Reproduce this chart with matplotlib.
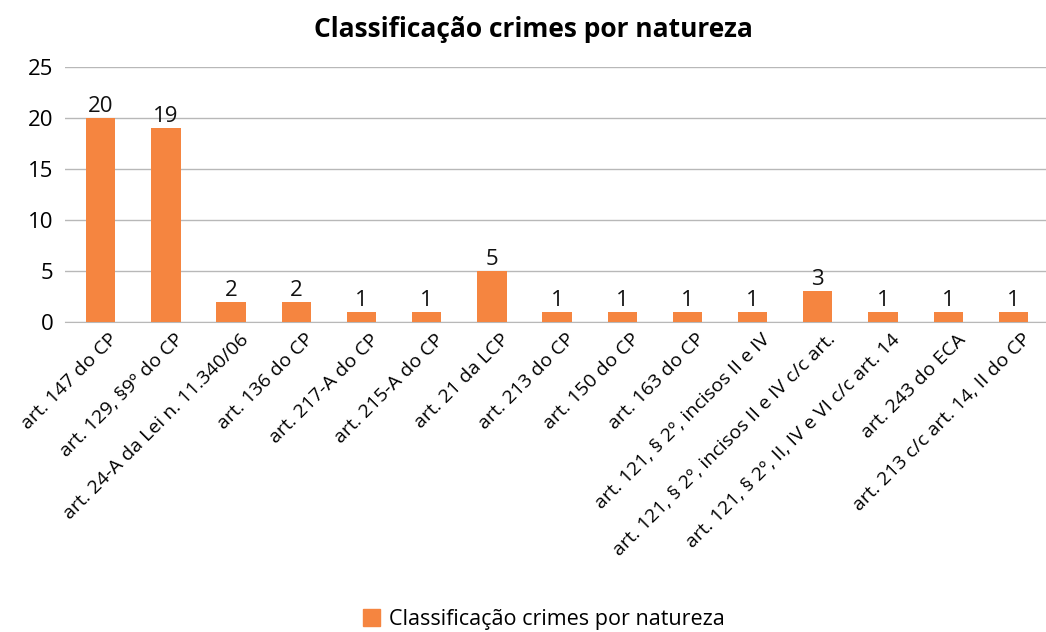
import numpy as np
import matplotlib.pyplot as plt
import matplotlib.transforms as mtransforms
from matplotlib.patches import Patch

# dados do gráfico
categorias = [
    "art. 147 do CP",
    "art. 129, §9º do CP",
    "art. 24-A da Lei n. 11.340/06",
    "art. 136 do CP",
    "art. 217-A do CP",
    "art. 215-A do CP",
    "art. 21 da LCP",
    "art. 213 do CP",
    "art. 150 do CP",
    "art. 163 do CP",
    "art. 121, § 2º, incisos II e IV",
    "art. 121, § 2º, incisos II e IV c/c art.",
    "art. 121, § 2º, II, IV e VI c/c art. 14",
    "art. 243 do ECA",
    "art. 213 c/c art. 14, II do CP",
]
valores = [20, 19, 2, 2, 1, 1, 5, 1, 1, 1, 1, 3, 1, 1, 1]
serie = "Classificação crimes por natureza"

laranja = "#F58540"
plt.rcParams['font.family'] = ['Open Sans', 'DejaVu Sans']

fig = plt.figure(figsize=(10.46, 6.32), dpi=100)
ax = fig.add_axes([0.062, 0.4905, 0.938, 0.4035])

x = np.arange(len(categorias))
ax.bar(x, valores, width=0.45, color=laranja, zorder=3)

for xi, v in zip(x, valores):
    ax.text(xi, v + 0.1, str(v), ha='center', va='bottom', fontsize=16, color='#111111')

ax.set_ylim(0, 25)
ax.set_xlim(-0.55, 14.5)
ax.set_yticks([0, 5, 10, 15, 20, 25])
ax.yaxis.grid(True, color='#b8b8b8', lw=1, zorder=0)
ax.tick_params(axis='y', length=0, labelsize=16, pad=8)
ax.tick_params(axis='x', length=0, pad=6)
ax.set_xticks(x)
ax.set_xticklabels(categorias, rotation=45, ha='right', rotation_mode='anchor', fontsize=14)
# desloca um pouco os rótulos para a direita
desloc = mtransforms.ScaledTranslation(8 / 100, 0, fig.dpi_scale_trans)
for lbl in ax.get_xticklabels():
    lbl.set_transform(lbl.get_transform() + desloc)
for s in ['top', 'right', 'left']:
    ax.spines[s].set_visible(False)
ax.spines['bottom'].set_color('#b8b8b8')

fig.suptitle(serie, fontsize=19, fontweight='bold', x=0.51, y=0.975)

fig.legend(handles=[Patch(color=laranja, label=serie)], loc='center', bbox_to_anchor=(0.52, 0.02),
           frameon=False, fontsize=15.5, handlelength=0.8, handleheight=0.8, handletextpad=0.4)

fig.savefig("out.png", dpi=100)
